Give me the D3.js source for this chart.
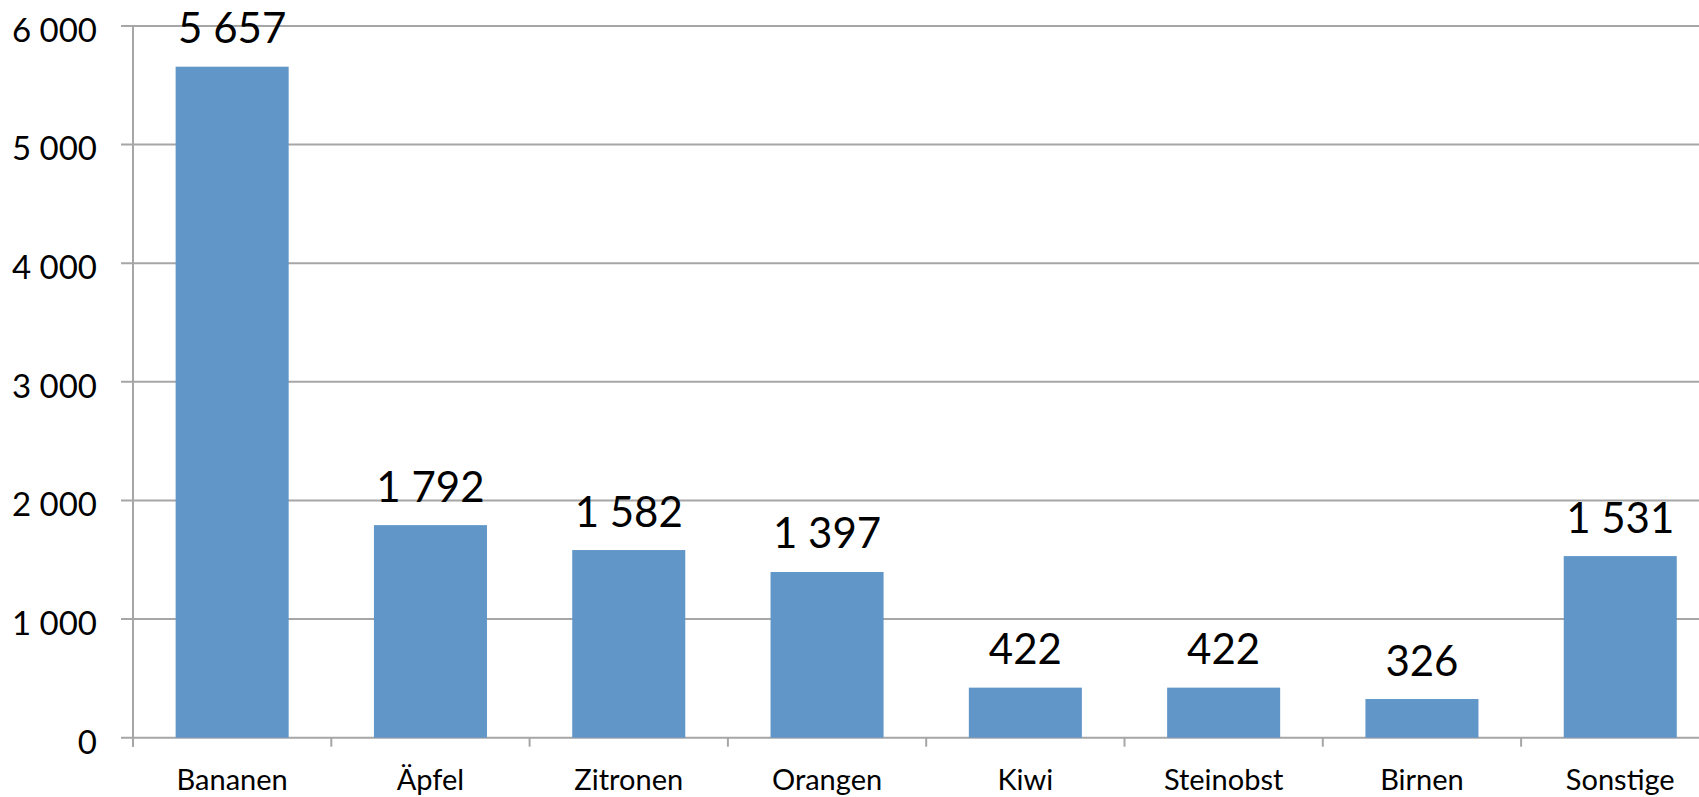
<!DOCTYPE html>
<html>
<head>
    <title>Obst</title>
    <meta charset="utf-8" />
    <style>
        body {
            margin: 0;
            background-color: white;
        }
        svg {
            display: block;
            font-family: Lato, "Open Sans", sans-serif;
        }
        .grid line {
            stroke: #a6a6a6;
            stroke-width: 2;
        }
    </style>
    <script src="https://cdnjs.cloudflare.com/ajax/libs/d3/7.8.5/d3.min.js"></script>
</head>
<body>
    <div id="graph"></div>
<script>

    var categories = ["Bananen", "Äpfel", "Zitronen", "Orangen", "Kiwi", "Steinobst", "Birnen", "Sonstige"];
    var values = [5657, 1792, 1582, 1397, 422, 422, 326, 1531];
    var yTicks = [0, 1000, 2000, 3000, 4000, 5000, 6000];

    var w = 1699,
        h = 797;

    // note: "top" is taken by window.top, so longer names here
    var plotLeft = 133,
        plotTop = 26,
        plotBottom = 737.7,
        step = 198.3;

    var de = d3.formatLocale({ decimal: ",", thousands: " ", grouping: [3], currency: ["", " €"] });
    var fmt = de.format(",d");

    var xScale = d3.scaleBand()
        .domain(categories)
        .range([plotLeft, plotLeft + step * categories.length])
        .paddingInner(0.43)
        .paddingOuter(0.215);

    var yScale = d3.scaleLinear()
        .domain([0, 6000])
        .range([plotBottom, plotTop]);

    var svg = d3.select("#graph")
        .append("svg")
        .attr("width", w)
        .attr("height", h);

    // horizontal gridlines, they start at the tick mark on the left
    svg.append("g")
        .attr("class", "grid")
        .selectAll("line")
        .data(yTicks)
        .enter().append("line")
        .attr("x1", plotLeft - 12)
        .attr("x2", w)
        .attr("y1", function (d) { return yScale(d); })
        .attr("y2", function (d) { return yScale(d); });

    // y axis line
    svg.append("line")
        .attr("x1", plotLeft).attr("x2", plotLeft)
        .attr("y1", plotTop).attr("y2", plotBottom + 9)
        .style("stroke", "#a6a6a6")
        .style("stroke-width", 2);

    // ticks between categories
    var bounds = d3.range(categories.length + 1).map(function (i) { return plotLeft + i * step; });
    svg.append("g")
        .selectAll("line")
        .data(bounds)
        .enter().append("line")
        .attr("x1", function (d) { return d; })
        .attr("x2", function (d) { return d; })
        .attr("y1", plotBottom)
        .attr("y2", plotBottom + 9)
        .style("stroke", "#a6a6a6")
        .style("stroke-width", 2);

    svg.append("g")
        .selectAll("text")
        .data(yTicks)
        .enter().append("text")
        .attr("x", 97)
        .attr("y", function (d) { return yScale(d); })
        .attr("dy", "0.48em")
        .attr("text-anchor", "end")
        .style("font-size", "33px")
        .text(function (d) { return fmt(d); });

    svg.append("g")
        .selectAll("text")
        .data(categories)
        .enter().append("text")
        .attr("x", function (d) { return xScale(d) + xScale.bandwidth() / 2; })
        .attr("y", plotBottom + 52)
        .attr("text-anchor", "middle")
        .style("font-size", "29px")
        .text(function (d) { return d; });

    svg.selectAll("rect.bar")
        .data(values)
        .enter().append("rect")
        .attr("class", "bar")
        .attr("x", function (d, i) { return xScale(categories[i]); })
        .attr("y", function (d) { return yScale(d); })
        .attr("width", xScale.bandwidth())
        .attr("height", function (d) { return plotBottom - yScale(d); })
        .style("fill", "#6196c9");

    svg.selectAll("text.val")
        .data(values)
        .enter().append("text")
        .attr("class", "val")
        .attr("x", function (d, i) { return xScale(categories[i]) + xScale.bandwidth() / 2; })
        .attr("y", function (d) { return yScale(d) - 23.5; })
        .attr("text-anchor", "middle")
        .style("font-size", "42px")
        .text(function (d) { return fmt(d); });

</script>
</body>
</html>
